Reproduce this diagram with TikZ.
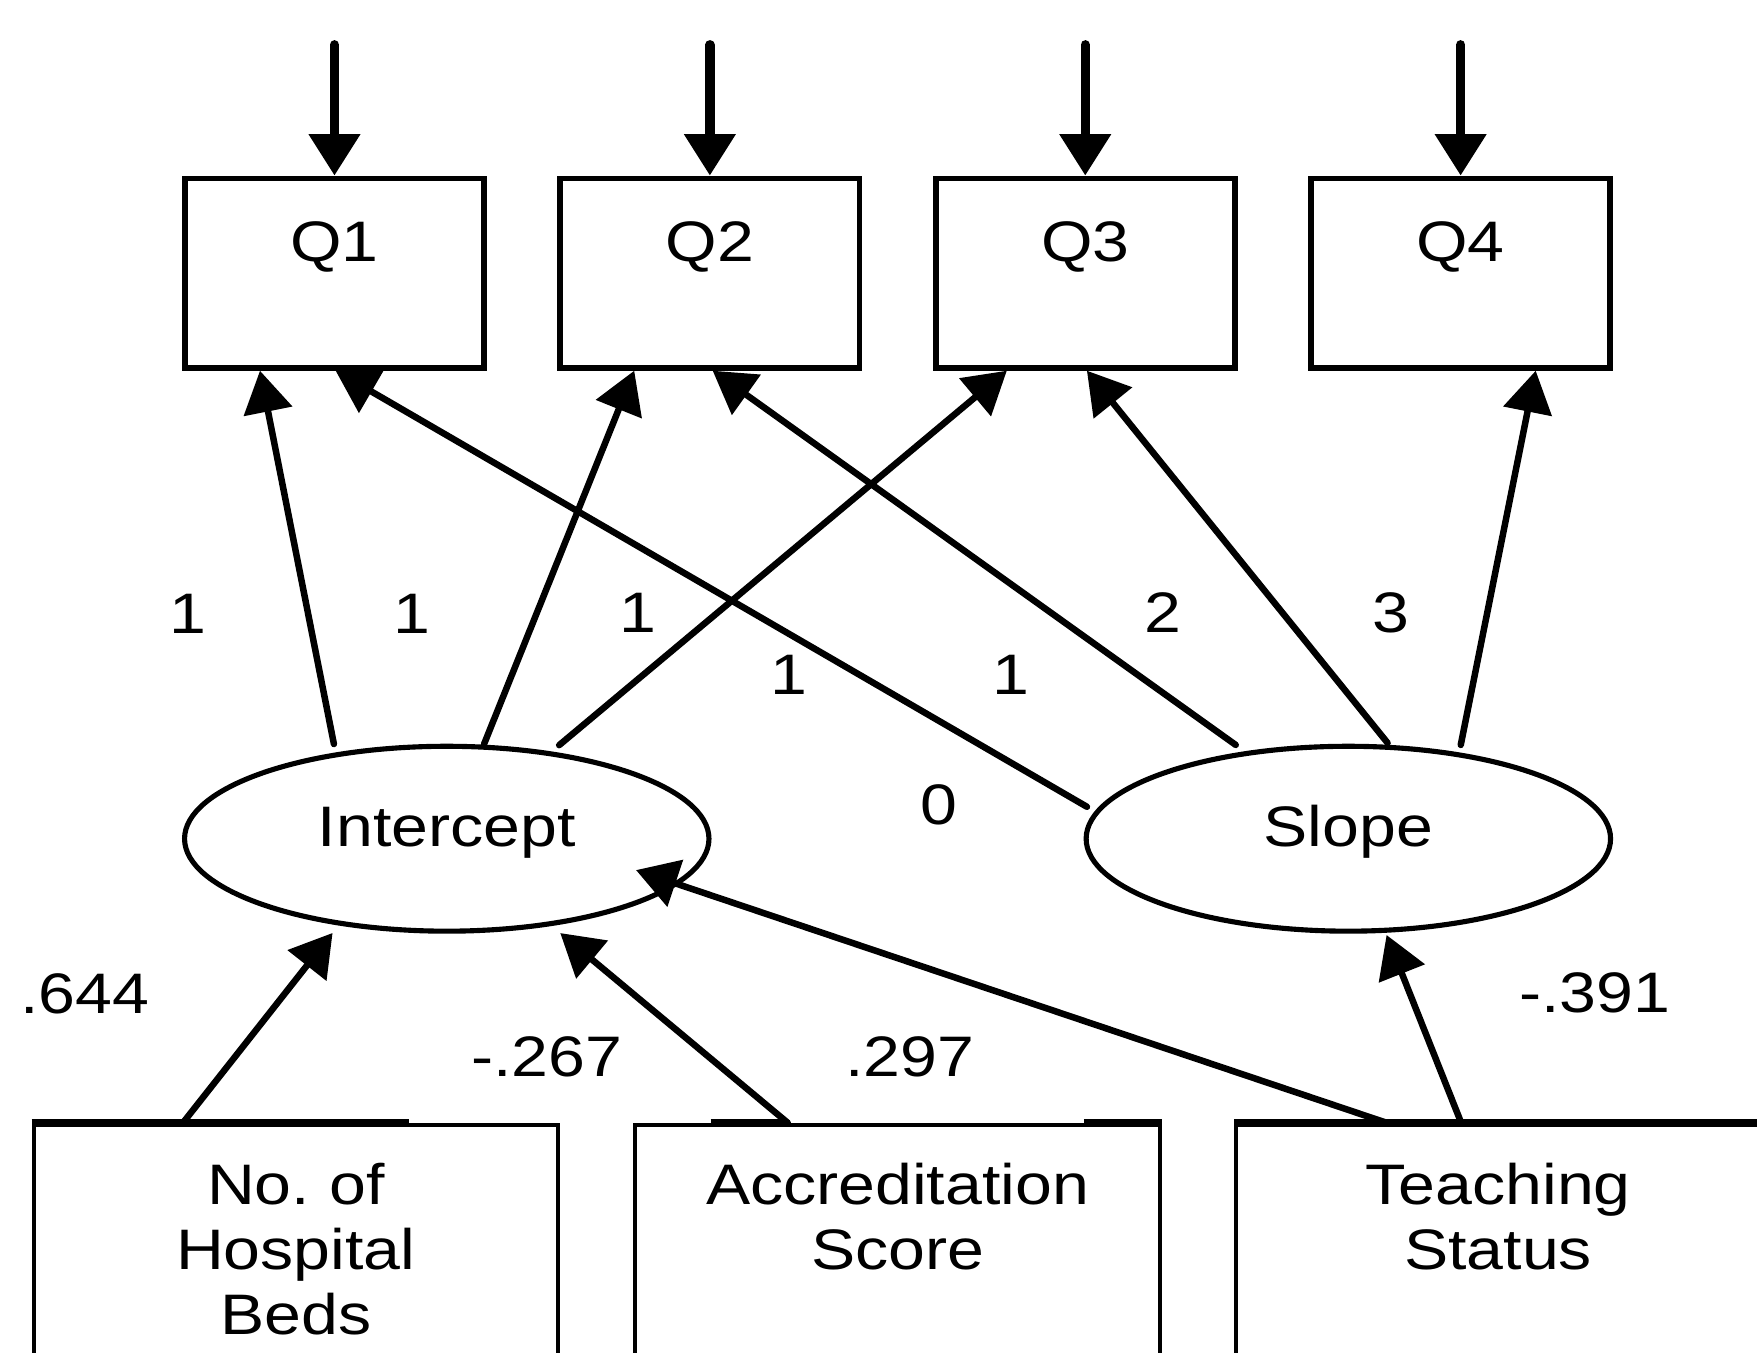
\documentclass[tikz,border=0pt]{standalone}
\usepackage{fontspec}
\setmainfont{Liberation Sans}[FakeStretch=1.16]
\usepackage{tikz}
\usetikzlibrary{shapes.geometric,arrows.meta,calc}
\frenchspacing

\tikzset{
  qbox/.style={draw, line width=1.45pt, minimum width=2.67cm, minimum height=1.69cm, text height=0.3cm, text depth=0.5cm},
  latent/.style={ellipse, draw, line width=1.3pt, minimum width=4.68cm, minimum height=1.65cm, inner sep=0pt, text height=0.43cm, text depth=0.3cm},
  covbox/.style={draw, line width=1pt, anchor=north, inner sep=0pt, text width=4.68cm, align=center, text height=0.715cm, text depth=2.2cm},
  coef/.style={inner sep=0pt},
  regpath/.style={line width=1.65pt, line cap=round, -{Triangle[length=0.37cm,width=0.43cm]}},
  errpath/.style={line width=2.4pt, line cap=round, -{Triangle[length=0.37cm,width=0.44cm]}},
  topbar/.style={line width=2pt}
}

\begin{document}
\begin{tikzpicture}[every node/.style={font=\fontsize{14.5}{16.4}\selectfont}]
\useasboundingbox (0,0) rectangle (15.68,-12.07);
\clip (0,0) rectangle (15.68,-12.07);

% measures with their error arrows
\foreach \i/\x in {1/2.985,2/6.335,3/9.685,4/13.035}{
  \node[qbox] (q\i) at (\x,-2.438) {Q\i};
  \coordinate (e\i) at (\x,-0.40);
  \draw[errpath] (e\i) -- (q\i.north);
}

% growth factors
\node[latent] (int) at (3.987,-7.485) {Intercept};
\node[latent] (slp) at (12.033,-7.485) {Slope};

% covariates
\node[covbox] (beds) at (2.64,-10.02) {No. of\\Hospital\\Beds};
\node[covbox] (accr) at (8.01,-10.02) {Accreditation\\Score};
\node[covbox] (teach) at (13.37,-10.02) {Teaching\\Status};
\draw[topbar] (beds.north west) -- ([xshift=3.37cm]beds.north west);
\draw[topbar] ([xshift=0.69cm]accr.north west) -- ([xshift=1.34cm]accr.north west);
\draw[topbar] ([xshift=4.02cm]accr.north west) -- (accr.north east);
\draw[topbar] (teach.north west) -- (teach.north east);

% loadings
\draw[regpath] ($(int.center)+(-1.007,0.845)$) -- ([xshift=-0.665cm]q1.south);
\draw[regpath] ($(int.center)+(0.333,0.845)$) -- ([xshift=-0.675cm]q2.south);
\draw[regpath] ($(int.center)+(1.003,0.835)$) -- ([xshift=-0.70cm]q3.south);
\draw[regpath] ($(slp.center)+(-2.333,0.285)$) -- ([xshift=0.01cm]q1.south);
\draw[regpath] ($(slp.center)+(-1.005,0.837)$) -- ([xshift=0.025cm]q2.south);
\draw[regpath] ($(slp.center)+(0.35,0.855)$) -- ([xshift=0.015cm]q3.south);
\draw[regpath] ($(slp.center)+(1.003,0.837)$) -- ([xshift=0.67cm]q4.south);

% regressions
\draw[regpath] ([xshift=-1.007cm]beds.north) -- ($(int.center)+(-1.019,-0.841)$);
\draw[regpath] ([xshift=-0.98cm]accr.north) -- ($(int.center)+(1.013,-0.842)$);
\draw[regpath] ([xshift=-0.996cm]teach.north) -- ($(int.center)+(1.689,-0.28)$);
\draw[regpath] ([xshift=-0.33cm]teach.north) -- ($(slp.center)+(0.341,-0.859)$);

% coefficients
\node[coef] (li1) at (1.68,-5.48) {1};
\node[coef] (li2) at (3.68,-5.48) {1};
\node[coef] (li3) at (5.69,-5.47) {1};
\node[coef] (ls1) at (7.04,-6.02) {1};
\node[coef] (ls2) at (9.02,-6.02) {1};
\node[coef] (ls3) at (10.38,-5.47) {2};
\node[coef] (ls4) at (12.41,-5.47) {3};
\node[coef] (ls0) at (8.38,-7.18) {0};
\node[coef] (bbeds) at (0.757,-8.87) {.644};
\node[coef] (baccr) at (4.88,-9.43) {-.267};
\node[coef] (bteach) at (8.12,-9.43) {.297};
\node[coef] (bslp) at (14.23,-8.86) {-.391};
\end{tikzpicture}
\end{document}
